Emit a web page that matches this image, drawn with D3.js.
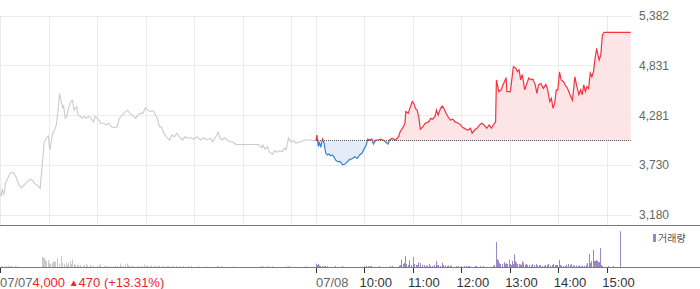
<!DOCTYPE html>
<html><head><meta charset="utf-8">
<script src="https://cdn.jsdelivr.net/npm/d3@7"></script>
<style>html,body{margin:0;padding:0;background:#fff;overflow:hidden}svg{display:block}</style>
</head><body><svg id="c" width="700" height="289"></svg>
<script>
// ---- data (minutes since 09:00 of each session) ----
const dayLabels = ["07/07", "07/08"];
const timeLabels = ["10:00", "11:00", "12:00", "13:00", "14:00", "15:00"];
const yTickValues = [3180, 3730, 4281, 4831, 5382];
const prevClose = 4000;
const infoPrice = "4,000", infoChange = "470", infoPct = "(+13.31%)";
const legendLabel = "거래량";

const d1Min = [0,1,2,4,5,6,8,12,16,19,
 23,26,29,33,37,40,42,45,47,49,
 51,53,54,57,59,61,63,65,67,69,
 71,73,75,77,78,80,82,84,87,89,
 91,94,96,99,101,104,106,109,112,115,
 117,120,124,128,131,134,137,140,144,147,
 149,152,157,160,163,167,170,173,176,179,
 182,185,189,192,194,196,197,199,202,205,
 209,212,215,218,221,225,228,231,235,239,
 243,247,251,255,260,262,266,269,271,274,
 277,280,284,288,291,319,323,324,327,330,
 332,336,339,342,345,348,351,353,356,359,
 363,365,370,373,377,383,389];
const d1Price = [3425,3390,3470,3410,3445,3535,3565,3645,3650,3605,
 3510,3480,3510,3550,3575,3560,3530,3510,3495,3475,
 3680,3880,3990,4035,4055,3900,4010,4100,4120,4175,
 4325,4525,4435,4360,4395,4250,4270,4360,4435,4450,
 4340,4380,4285,4270,4250,4270,4250,4270,4250,4210,
 4270,4250,4195,4195,4175,4195,4155,4145,4155,4250,
 4270,4305,4340,4305,4285,4250,4285,4305,4305,4365,
 4340,4325,4330,4280,4250,4175,4155,4155,4085,4045,
 4010,4065,4045,4085,4045,4010,4045,4030,4035,4020,
 4045,4010,4035,4010,4030,3990,4045,4095,4035,4010,
 4035,4010,3990,3985,3960,3960,3925,3955,3910,3935,
 3880,3850,3890,3875,3890,3880,3920,3900,4030,3990,
 4000,3975,3985,4000,4010,4010,4000];

const d2Min = [0,1,3,4,6,8,10,12,14,16,
 18,20,22,24,27,30,33,36,39,41,
 45,48,51,54,57,60,62,64,66,69,
 71,74,77,80,84,87,89,91,94,98,
 102,104,107,110,111,114,116,119,121,123,
 125,127,129,132,135,139,142,144,147,149,
 151,154,156,158,161,163,166,169,172,176,
 179,181,185,188,191,193,196,199,202,205,
 208,211,214,217,219,222,223,226,229,231,
 233,235,236,240,241,244,247,249,251,253,
 255,258,260,263,266,268,271,273,275,278,
 281,284,286,289,291,293,295,297,299,301,
 303,306,308,311,314,317,320,322,325,327,
 329,331,333,335,337,339,341,343,345,347,
 348,350,352,354,356,389];
const d2Price = [4000,4065,3935,3990,3930,4020,3975,3865,3845,3855,
 3835,3845,3825,3790,3770,3770,3735,3745,3770,3790,
 3805,3825,3805,3845,3865,3920,3955,4020,4010,4020,
 3965,4010,4010,4020,4005,3980,3965,4010,4030,4010,
 4045,4100,4140,4195,4325,4305,4360,4435,4410,4360,
 4340,4270,4130,4155,4195,4210,4250,4240,4270,4340,
 4285,4360,4385,4360,4300,4270,4230,4240,4210,4195,
 4175,4150,4130,4120,4140,4085,4120,4140,4175,4195,
 4175,4140,4175,4140,4175,4210,4675,4545,4565,4620,
 4655,4700,4545,4545,4600,4820,4805,4765,4785,4675,
 4735,4565,4620,4695,4675,4685,4620,4525,4620,4635,
 4580,4625,4580,4435,4470,4360,4415,4565,4565,4765,
 4675,4655,4620,4580,4510,4450,4710,4620,4510,4565,
 4510,4620,4545,4600,4580,4750,4710,4765,4915,5025,
 4970,4895,4950,5170,5200,5200];

const v1Min = [1,2,8,10,12,14,19,21,
 52,53,54,56,57,59,60,62,64,65,
 67,68,70,71,73,75,76,77,79,81,
 83,84,86,88,89,91,93,95,97,99,
 102,104,106,108,111,113,115,120,122,124,
 128,130,132,136,140,142,145,148,150,152,
 155,157,158,161,163,165,169,173,175,178,
 180,182,185,187,190,192,194,197,200,203,
 206,208,211,214,218,222,226,233,236,245,
 255,268,270,273,288,321,323,325,330,333,
 336,354,356,358,376,378];
const v1Vol = [10,10,10,13,10,10,10,10,
 100,95,90,70,60,70,40,30,40,50,
 60,50,90,70,30,110,60,40,30,40,
 20,40,60,30,75,30,20,20,20,20,
 10,20,30,15,20,10,15,10,15,30,
 10,10,10,10,10,10,10,35,10,10,
 25,35,20,10,10,10,10,10,10,25,
 15,10,10,15,10,15,10,15,10,10,
 10,10,10,10,10,10,10,10,10,10,
 7,10,10,10,7,10,10,10,10,10,
 10,13,10,10,7,10];

const v2Min = [0,2,3,4,6,8,10,12,14,24,
 33,60,63,65,67,69,79,92,94,103,
 105,106,108,109,111,112,114,116,118,120,
 121,122,124,126,127,129,132,134,136,138,
 140,142,144,146,149,150,152,154,156,158,
 160,162,164,166,168,174,176,180,184,186,
 188,190,197,199,203,207,219,221,223,224,
 226,227,228,230,231,233,234,235,237,239,
 240,242,243,244,245,246,248,249,251,253,
 254,255,257,259,260,262,264,266,268,270,
 272,274,276,278,280,282,284,286,288,290,
 292,294,296,297,299,301,302,304,306,308,
 310,312,314,316,318,320,322,324,326,328,
 330,332,334,335,336,338,339,340,341,343,
 344,345,347,348,349,350,352,353,354,362,
 368,377];
const v2Vol = [35,20,30,15,10,10,10,10,10,10,
 10,10,10,10,10,10,10,10,10,15,
 20,70,30,40,107,30,20,67,20,100,
 30,30,20,20,47,40,20,20,15,10,
 30,10,10,20,60,20,20,10,43,20,
 15,10,15,15,10,10,10,10,10,10,
 10,10,10,10,10,10,10,20,250,77,
 67,40,30,30,30,50,30,37,30,73,
 30,20,60,30,127,60,43,30,30,27,
 20,60,40,25,30,20,20,15,30,20,
 30,15,20,20,10,10,20,20,30,15,
 20,30,20,20,20,70,20,15,10,10,
 20,30,20,30,15,15,15,10,15,10,
 10,10,20,30,40,130,40,50,60,170,
 60,60,70,60,50,50,190,20,10,10,
 10,357];

// ---- build ----
const SESSION = 390;
const day1 = d1Min.map((m, i) => ({t: m, p: d1Price[i]}));
const day2 = d2Min.map((m, i) => ({t: SESSION + m, p: d2Price[i]}));
const vol1 = v1Min.map((m, i) => ({t: m, v: v1Vol[i]}));
const vol2 = v2Min.map((m, i) => ({t: SESSION + m, v: v2Vol[i]}));

const svg = d3.select("#c");
const x = d3.scaleLinear().domain([0, 2 * SESSION]).range([0.5, 631.5]);
const y = d3.scaleLinear().domain([3180, 5382]).range([215, 16]);
const yv = d3.scaleLinear().domain([0, 400]).range([267, 227]);
const snap = v => Math.round(v) + 0.5;

// grid
const gridT = [0, 60, 120, 180, 240, 300, 360, SESSION, SESSION + 60, SESSION + 120, SESSION + 180, SESSION + 240, SESSION + 300, SESSION + 360];
svg.append("g").selectAll("line").data(gridT).join("line")
  .attr("x1", d => snap(x(d) - 0.5)).attr("x2", d => snap(x(d) - 0.5))
  .attr("y1", 16).attr("y2", 225).attr("stroke", "#ebebeb");
svg.append("g").selectAll("line").data(yTickValues).join("line")
  .attr("x1", 0).attr("x2", 632)
  .attr("y1", d => snap(y(d) - 0.5)).attr("y2", d => snap(y(d) - 0.5))
  .attr("stroke", "#ebebeb");

// y labels
svg.append("g").selectAll("text").data(yTickValues).join("text")
  .attr("x", 669).attr("y", d => y(d)).attr("dy", "0.35em")
  .attr("text-anchor", "end").attr("font-family", "Liberation Sans, Arial, sans-serif")
  .attr("font-size", 12).attr("fill", "#666").text(d => d3.format(",")(d));

// day 1 line
svg.append("path").datum(day1)
  .attr("d", d3.line().x(d => x(d.t)).y(d => y(d.p)))
  .attr("fill", "none").attr("stroke", "#c9cbd0").attr("stroke-width", 1.1);

// day 2 colored
const baseY = y(prevClose);
const defs = svg.append("defs");
defs.append("clipPath").attr("id", "up").append("rect")
  .attr("x", 0).attr("y", 0).attr("width", 700).attr("height", baseY);
defs.append("clipPath").attr("id", "dn").append("rect")
  .attr("x", 0).attr("y", baseY).attr("width", 700).attr("height", 300);
const area2 = d3.area().x(d => x(d.t)).y0(baseY).y1(d => y(d.p));
const line2 = d3.line().x(d => x(d.t)).y(d => y(d.p));
svg.append("path").datum(day2).attr("d", area2).attr("fill", "#fde4e7").attr("clip-path", "url(#up)");
svg.append("path").datum(day2).attr("d", area2).attr("fill", "#e4ecf8").attr("clip-path", "url(#dn)");
svg.append("line").attr("x1", x(SESSION)).attr("x2", x(day2[day2.length - 1].t))
  .attr("y1", snap(baseY - 0.5)).attr("y2", snap(baseY - 0.5))
  .attr("stroke", "#555").attr("stroke-dasharray", "1,1");
svg.append("path").datum(day2).attr("d", line2).attr("fill", "none")
  .attr("stroke", "#f5333f").attr("stroke-width", 1.2).attr("clip-path", "url(#up)");
svg.append("path").datum(day2).attr("d", line2).attr("fill", "none")
  .attr("stroke", "#3b7ddd").attr("stroke-width", 1.2).attr("clip-path", "url(#dn)");

// volume
svg.append("g").selectAll("rect").data(vol1).join("rect")
  .attr("x", d => Math.floor(x(d.t))).attr("width", 1)
  .attr("y", d => yv(d.v)).attr("height", d => yv(0) - yv(d.v)).attr("fill", "#c8cacf");
svg.append("g").selectAll("rect").data(vol2).join("rect")
  .attr("x", d => Math.floor(x(d.t))).attr("width", 1)
  .attr("y", d => yv(d.v)).attr("height", d => yv(0) - yv(d.v)).attr("fill", "#9b86c8");

// frame lines
svg.append("line").attr("x1", 0).attr("x2", 700).attr("y1", 225.5).attr("y2", 225.5).attr("stroke", "#7a7a7a");
svg.append("line").attr("x1", 0).attr("x2", 700).attr("y1", 267.5).attr("y2", 267.5).attr("stroke", "#7a7a7a");

// bottom ticks
const tickT = [0, SESSION, SESSION + 60, SESSION + 120, SESSION + 180, SESSION + 240, SESSION + 300, SESSION + 360];
svg.append("g").selectAll("line").data(tickT).join("line")
  .attr("x1", d => snap(x(d) - 0.5)).attr("x2", d => snap(x(d) - 0.5))
  .attr("y1", 268).attr("y2", 273).attr("stroke", "#333");

const font = "Liberation Sans, Arial, sans-serif";
const t1 = svg.append("text").attr("x", 0).attr("y", 287).attr("font-family", font).attr("font-size", 13);
t1.append("tspan").attr("fill", "#666").text(dayLabels[0]);
t1.append("tspan").attr("fill", "#e8262f").text(infoPrice + " ");
t1.append("tspan").attr("fill", "#e8262f").attr("font-size", 10).attr("dy", -1).text("▲");
t1.append("tspan").attr("fill", "#e8262f").attr("dy", 1).text(infoChange + " " + infoPct);

svg.append("text").attr("x", x(SESSION)).attr("y", 287).attr("font-family", font).attr("font-size", 13)
  .attr("fill", "#666").text(dayLabels[1]);
svg.append("g").selectAll("text").data(timeLabels).join("text")
  .attr("x", (d, i) => x(SESSION + 60 * (i + 1)) - 5).attr("y", 287)
  .attr("font-family", font).attr("font-size", 13).attr("fill", "#333").text(d => d);

// legend
svg.append("rect").attr("x", 653).attr("y", 234).attr("width", 3).attr("height", 8).attr("fill", "#9b86c8");
svg.append("text").attr("x", 658).attr("y", 242).attr("font-family", "Noto Sans CJK KR, sans-serif")
  .attr("font-size", 10).attr("fill", "#555").text(legendLabel);
</script></body></html>
